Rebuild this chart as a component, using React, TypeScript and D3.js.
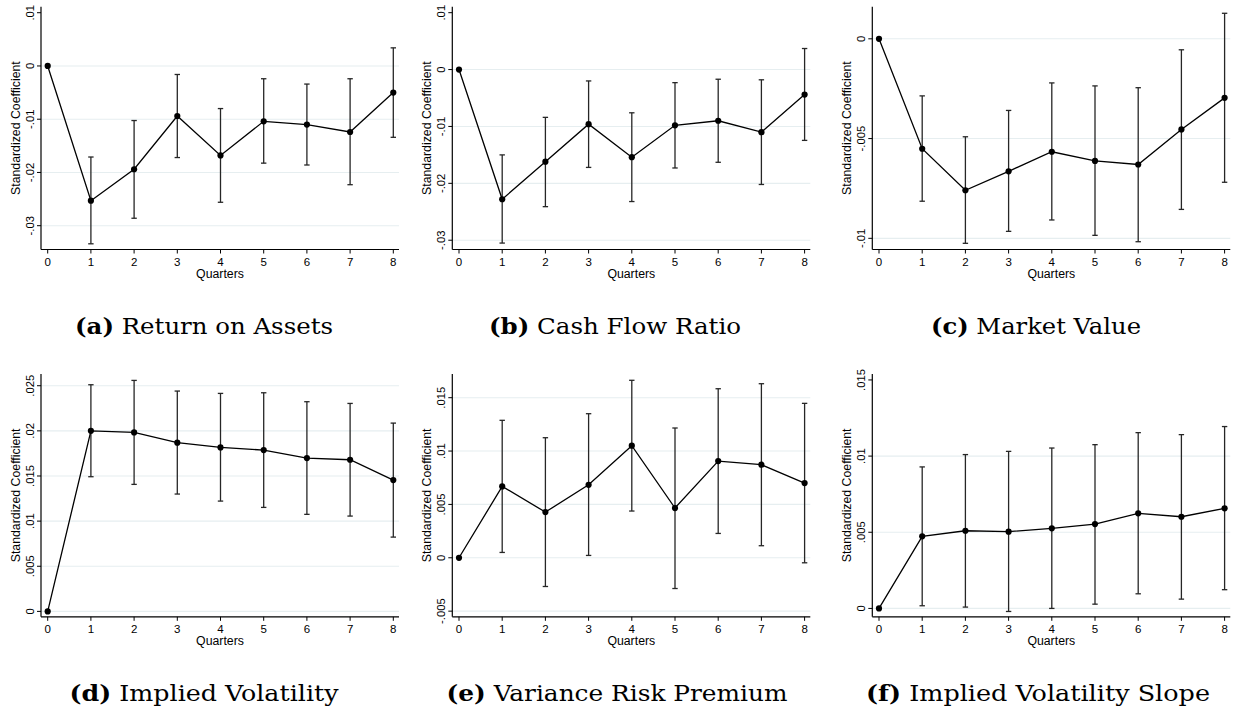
import React from "react";
import * as d3 from "d3";

// Event-study coefficients by quarter, with 95% confidence bounds.
const quarters = [0, 1, 2, 3, 4, 5, 6, 7, 8];

const roaCoef = [0, -0.0253, -0.0194, -0.0094, -0.0168, -0.0104, -0.011, -0.0124, -0.005];
const roaLo = [null, -0.0334, -0.0286, -0.0172, -0.0256, -0.01825, -0.0186, -0.0223, -0.0134];
const roaHi = [null, -0.0171, -0.01025, -0.0016, -0.008, -0.0024, -0.0034, -0.0024, 0.0034];

const cfrCoef = [0, -0.0228, -0.0162, -0.0096, -0.0154, -0.0098, -0.009, -0.011, -0.0044];
const cfrLo = [null, -0.0305, -0.0241, -0.0172, -0.0232, -0.0173, -0.0163, -0.0202, -0.01245];
const cfrHi = [null, -0.015, -0.0084, -0.002, -0.0076, -0.0023, -0.0017, -0.0018, 0.0037];

const mvCoef = [0, -0.00551, -0.00759, -0.00664, -0.00566, -0.00612, -0.0063, -0.00454, -0.00296];
const mvLo = [null, -0.00814, -0.01025, -0.00965, -0.00908, -0.00985, -0.01017, -0.00855, -0.00719];
const mvHi = [null, -0.00286, -0.00491, -0.00359, -0.00221, -0.00236, -0.00245, -0.00055, 0.00128];

const ivCoef = [0, 0.02, 0.01983, 0.01869, 0.01817, 0.01787, 0.01699, 0.0168, 0.01455];
const ivLo = [null, 0.01492, 0.01407, 0.013, 0.01222, 0.01152, 0.01075, 0.01056, 0.00823];
const ivHi = [null, 0.02511, 0.02559, 0.02441, 0.02415, 0.02422, 0.02323, 0.02304, 0.02086];

const vrpCoef = [0, 0.00669, 0.00428, 0.00684, 0.0105, 0.00466, 0.00906, 0.00872, 0.007];
const vrpLo = [null, 0.0005, -0.00269, 0.00022, 0.00438, -0.00288, 0.00228, 0.00113, -0.00047];
const vrpHi = [null, 0.01288, 0.01125, 0.0135, 0.01663, 0.01216, 0.01584, 0.01631, 0.01447];

const ivsCoef = [0, 0.00473, 0.0051, 0.00504, 0.00526, 0.00554, 0.00624, 0.00602, 0.00657];
const ivsLo = [null, 0.000175, 0.0000876, -0.0002, 0.0, 0.00028, 0.00096, 0.00061, 0.00123];
const ivsHi = [null, 0.00929, 0.0101, 0.01031, 0.01053, 0.01075, 0.01154, 0.01141, 0.01194];

// y-axis ticks and their labels
const ticksProfit = [-0.03, -0.02, -0.01, 0, 0.01];
const labelsProfit = ["-.03", "-.02", "-.01", "0", ".01"];
const ticksMv = [-0.01, -0.005, 0];
const labelsMv = ["-.01", "-.005", "0"];
const ticksIv = [0, 0.005, 0.01, 0.015, 0.02, 0.025];
const labelsIv = ["0", ".005", ".01", ".015", ".02", ".025"];
const ticksVrp = [-0.005, 0, 0.005, 0.01, 0.015];
const labelsVrp = ["-.005", "0", ".005", ".01", ".015"];
const ticksIvs = [0, 0.005, 0.01, 0.015];
const labelsIvs = ["0", ".005", ".01", ".015"];

// y-axis extents
const domainRoa = [-0.03447, 0.01113];
const domainCfr = [-0.03163, 0.01105];
const domainMv = [-0.01056, 0.00161];
const domainIv = [-0.0006, 0.0263];
const domainVrp = [-0.00553, 0.01722];
const domainIvs = [-0.00055, 0.01539];

const captionLetters = ["a", "b", "c", "d", "e", "f"];
const captionTitles = [
  "Return on Assets",
  "Cash Flow Ratio",
  "Market Value",
  "Implied Volatility",
  "Variance Risk Premium",
  "Implied Volatility Slope",
];

const xTitle = "Quarters";
const yTitle = "Standardized Coefficient";

type PanelSpec = {
  coef: number[];
  lo: (number | null)[];
  hi: (number | null)[];
  ticks: number[];
  labels: string[];
  domain: number[];
};

const panels: PanelSpec[] = [
  { coef: roaCoef, lo: roaLo, hi: roaHi, ticks: ticksProfit, labels: labelsProfit, domain: domainRoa },
  { coef: cfrCoef, lo: cfrLo, hi: cfrHi, ticks: ticksProfit, labels: labelsProfit, domain: domainCfr },
  { coef: mvCoef, lo: mvLo, hi: mvHi, ticks: ticksMv, labels: labelsMv, domain: domainMv },
  { coef: ivCoef, lo: ivLo, hi: ivHi, ticks: ticksIv, labels: labelsIv, domain: domainIv },
  { coef: vrpCoef, lo: vrpLo, hi: vrpHi, ticks: ticksVrp, labels: labelsVrp, domain: domainVrp },
  { coef: ivsCoef, lo: ivsLo, hi: ivsHi, ticks: ticksIvs, labels: labelsIvs, domain: domainIvs },
];

// Layout
const W = 1233;
const H = 711;
const axisXs = [41, 452.3, 872.3];
const rowTops = [6.7, 374];
const plotH = 242.8;
const plotW = 358;
const captionCenters = [204, 615, 1036, 204, 617, 1038];
const captionWidths = [258, 252, 210, 269, 341, 344];
const captionBaselines = [334, 701];

const FONT = "'Liberation Sans', Arial, Helvetica, sans-serif";
const GRID = "#e6eef0";
const BAR = "#262626";

function Panel({ spec, x0, y0 }: { spec: PanelSpec; x0: number; y0: number }) {
  const x = d3.scaleLinear().domain([0, 8]).range([x0 + 6.7, x0 + 352.3]);
  const y = d3.scaleLinear().domain(spec.domain).range([y0 + plotH, y0]);
  const line = d3
    .line<number>()
    .x((_, i) => x(quarters[i]))
    .y((d) => y(d));
  const bottom = y0 + plotH;
  const right = x0 + plotW;
  const cap = 2.7;

  return (
    <g>
      {/* horizontal grid lines */}
      {spec.ticks
        .filter((t) => y(t) - y0 > 8)
        .map((t, i) => (
          <line key={"g" + i} x1={x0} x2={right} y1={y(t)} y2={y(t)} stroke={GRID} strokeWidth={1.1} />
        ))}
      {/* axes */}
      <line x1={x0} x2={x0} y1={y0} y2={bottom} stroke="#000" strokeWidth={1.2} />
      <line x1={x0} x2={right} y1={bottom} y2={bottom} stroke="#000" strokeWidth={1.2} />
      {/* y ticks and rotated labels */}
      {spec.ticks.map((t, i) => (
        <g key={"yt" + i}>
          <line x1={x0 - 4} x2={x0} y1={y(t)} y2={y(t)} stroke="#000" strokeWidth={1} />
          <text
            transform={`translate(${x0 - 7.5},${y(t)}) rotate(-90)`}
            textAnchor="middle"
            fontFamily={FONT}
            fontSize={11.3}
            fill="#000"
          >
            {spec.labels[i]}
          </text>
        </g>
      ))}
      {/* x ticks */}
      {quarters.map((q) => (
        <g key={"xt" + q}>
          <line x1={x(q)} x2={x(q)} y1={bottom} y2={bottom + 4} stroke="#000" strokeWidth={1} />
          <text x={x(q)} y={bottom + 16.5} textAnchor="middle" fontFamily={FONT} fontSize={11.5} fill="#000">
            {q}
          </text>
        </g>
      ))}
      <text x={(x0 + right) / 2} y={bottom + 28.5} textAnchor="middle" fontFamily={FONT} fontSize={12.3} fill="#000">
        {xTitle}
      </text>
      <text
        transform={`translate(${x0 - 21},${y0 + plotH / 2}) rotate(-90)`}
        textAnchor="middle"
        fontFamily={FONT}
        fontSize={12.3}
        fill="#000"
      >
        {yTitle}
      </text>
      {/* confidence intervals */}
      {quarters.map((q, i) => {
        const lo = spec.lo[i];
        const hi = spec.hi[i];
        if (lo == null || hi == null) return null;
        const cx = x(q);
        return (
          <g key={"ci" + q} stroke={BAR} strokeWidth={1.3}>
            <line x1={cx} x2={cx} y1={y(lo)} y2={y(hi)} />
            <line x1={cx - cap} x2={cx + cap} y1={y(lo)} y2={y(lo)} />
            <line x1={cx - cap} x2={cx + cap} y1={y(hi)} y2={y(hi)} />
          </g>
        );
      })}
      {/* point estimates */}
      <path d={line(spec.coef) || ""} fill="none" stroke="#000" strokeWidth={1.3} />
      {spec.coef.map((c, i) => (
        <circle key={"m" + i} cx={x(quarters[i])} cy={y(c)} r={3.1} fill="#000" />
      ))}
    </g>
  );
}

export default function App() {
  return (
    <svg
      width={W}
      height={H}
      viewBox={`0 0 ${W} ${H}`}
      style={{ position: "absolute", left: 0, top: 0, background: "#fff" }}
    >
      <rect x={0} y={0} width={W} height={H} fill="#fff" />
      {panels.map((p, i) => (
        <Panel key={i} spec={p} x0={axisXs[i % 3]} y0={rowTops[Math.floor(i / 3)]} />
      ))}
      {captionTitles.map((t, i) => (
        <text
          key={"cap" + i}
          x={captionCenters[i] - captionWidths[i] / 2}
          y={captionBaselines[Math.floor(i / 3)]}
          textLength={captionWidths[i]}
          lengthAdjust="spacingAndGlyphs"
          fontFamily="'DejaVu Serif', 'Liberation Serif', serif"
          fontSize={23}
          fill="#000"
        >
          <tspan fontWeight="bold">({captionLetters[i]})</tspan>
          <tspan> {t}</tspan>
        </text>
      ))}
    </svg>
  );
}
